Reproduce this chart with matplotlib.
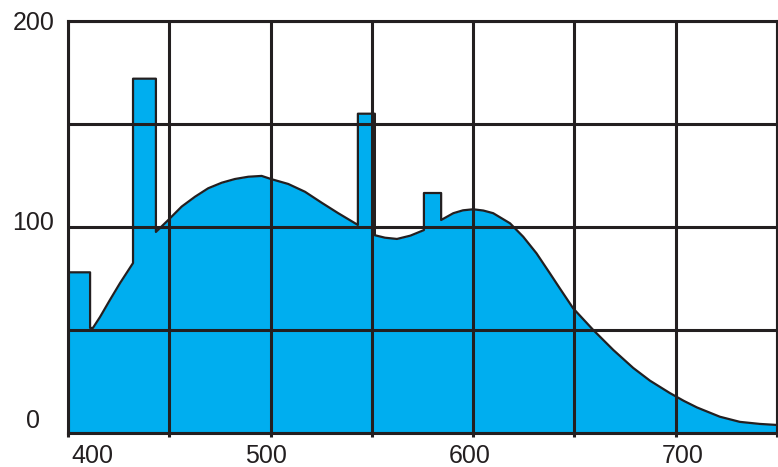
import matplotlib.pyplot as plt
from matplotlib.transforms import ScaledTranslation

plt.rcParams['font.family'] = ['Liberation Sans', 'DejaVu Sans']

# wavelength (nm) and relative power
wavelength = [400, 410.9, 410.9, 412.3, 415.8, 420.7, 425.7, 432.1, 432.1, 443.4, 443.4,
              449.5, 456.1, 462.7, 469.2, 475.9, 482.4, 489.0, 495.6, 500.5, 508.7,
              517.0, 525.2, 533.4, 543.1, 543.1, 551.5, 551.5, 556.5, 562.4, 569.0,
              575.7, 575.7, 584.2, 584.2, 590.2, 595.0, 600.0, 605.0, 609.9, 618.2,
              624.7, 631.3, 637.9, 642.8, 649.4, 659.3, 669.2, 679.0, 687.3, 697.1,
              704.0, 710.5, 721.8, 731.7, 741.6, 750]
power = [78, 78, 51, 51, 56.3, 64.6, 72.8, 82.5, 172, 172, 97.6,
         103.4, 109.9, 114.7, 118.8, 121.5, 123.3, 124.4, 124.8, 123.2, 120.9,
         117.1, 111.8, 106.7, 101.0, 155, 155, 96, 94.8, 94.2, 95.8,
         98.5, 116.5, 116.5, 103.4, 106.7, 108.1, 108.6, 108.0, 106.7, 101.8,
         95.3, 87.2, 77.5, 70.2, 60.5, 50.0, 40.3, 31.6, 25.4, 19.4,
         15.6, 12.4, 7.9, 5.4, 4.4, 3.9]

x_ticks = [400, 450, 500, 550, 600, 650, 700, 750]
x_labels = ['400', '', '500', '', '600', '', '700', '']
y_ticks = [0, 50, 100, 150, 200]
y_labels = ['0', '', '100', '', '200']

ink = '#231F20'
fig = plt.figure(figsize=(7.78, 4.67), dpi=100)
ax = fig.add_axes([68/778, 34/467, 709/778, 412/467])

ax.fill_between(wavelength, power, color='#00AEEF', lw=0)
ax.plot(wavelength, power, color=ink, lw=1.6)

ax.set_xlim(400, 750)
ax.set_ylim(0, 200)
ax.set_xticks(x_ticks, x_labels)
ax.set_yticks(y_ticks, y_labels)
ax.set_axisbelow(False)
ax.grid(True, color=ink, lw=2.2)
for s in ax.spines.values():
    s.set_color(ink)
    s.set_linewidth(2.2)

ax.tick_params(axis='x', length=3, width=2.2, color=ink, pad=5,
               labelsize=18, labelcolor=ink)
ax.tick_params(axis='y', length=0, pad=25, labelsize=18, labelcolor=ink)

# nudge labels to where they sit in the original
dx = {'400': 24, '500': -5, '600': -3, '700': 7}
for lab in ax.get_xticklabels():
    t = lab.get_text()
    if t in dx:
        lab.set_transform(lab.get_transform() + ScaledTranslation(dx[t]/100, 0, fig.dpi_scale_trans))
dy = {'0': 14, '100': 7, '200': 0}
for lab in ax.get_yticklabels():
    lab.set_horizontalalignment('center')
    t = lab.get_text()
    if t in dy:
        lab.set_transform(lab.get_transform() + ScaledTranslation(0, dy[t]/100, fig.dpi_scale_trans))

plt.savefig('out.png', dpi=100)
